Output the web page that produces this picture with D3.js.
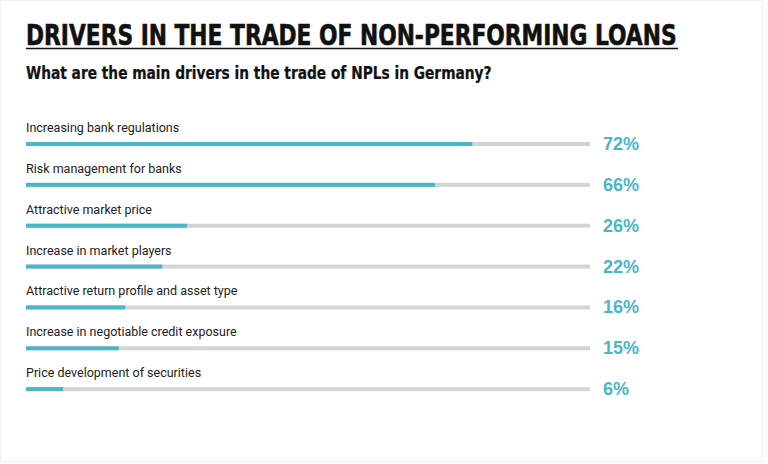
<!DOCTYPE html>
<html>
<head>
<meta charset="utf-8">
<script src="https://cdn.jsdelivr.net/npm/d3@7"></script>
<style>
  body { margin: 0; background: #fff; }
  svg { display: block; }
</style>
</head>
<body>
<svg width="768" height="464"></svg>
<script>
const drivers = [
    "Increasing bank regulations",
    "Risk management for banks",
    "Attractive market price",
    "Increase in market players",
    "Attractive return profile and asset type",
    "Increase in negotiable credit exposure",
    "Price development of securities"
];
const shares = [72, 66, 26, 22, 16, 15, 6];

const svg = d3.select("svg");
const teal = "#4ab6c7";

// faint frame like the source image
svg.append("rect")
    .attr("x", 0.5).attr("y", 0.5)
    .attr("width", 762).attr("height", 461)
    .attr("fill", "none")
    .attr("stroke", "#f0f0f0");

// fit a heading to a width by font size, then stretch it back up vertically
function heading(txt, x0, base, size, width, weight) {
    const t = svg.append("text")
        .attr("font-family", "DejaVu Sans Condensed")
        .attr("font-weight", "bold")
        .attr("font-size", size)
        .attr("fill", "#111")
        .attr("stroke", "#111")
        .attr("stroke-width", weight)
        .text(txt);
    const len = t.node().getComputedTextLength();
    const fs = size * width / len;
    t.attr("font-size", fs)
        .attr("transform", `translate(${x0}, ${base}) scale(1, ${size / fs})`);
    return t;
}

heading("DRIVERS IN THE TRADE OF NON-PERFORMING LOANS", 26, 45, 28, 651, 0.5);
svg.append("line")
    .attr("x1", 26).attr("x2", 678)
    .attr("y1", 48.5).attr("y2", 48.5)
    .attr("stroke", "#111")
    .attr("stroke-width", 1.5);

heading("What are the main drivers in the trade of NPLs in Germany?", 26, 79, 18, 466, 0.2);

// scales
const x = d3.scaleLinear().domain([0, 91]).range([26, 590]).clamp(true);
const y = d3.scaleBand().domain(drivers).range([122, 408]);

const rows = svg.append("g")
    .selectAll("g")
    .data(drivers)
    .enter()
    .append("g")
    .attr("transform", d => `translate(0, ${y(d)})`);

rows.append("text")
    .attr("x", 26).attr("y", 10)
    .attr("font-family", "Roboto")
    .attr("font-size", 12.5)
    .attr("fill", "#222")
    .text(d => d);

// grey track
rows.append("rect")
    .attr("x", x(0)).attr("y", 20)
    .attr("width", x.range()[1] - x(0))
    .attr("height", 4)
    .attr("fill", "#d2d4d5");

// value bar
rows.append("rect")
    .attr("x", x(0)).attr("y", 20)
    .attr("width", (d, i) => x(shares[i]) - x(0))
    .attr("height", 4)
    .attr("fill", teal);

rows.append("text")
    .attr("x", 603).attr("y", 28)
    .attr("font-family", "Liberation Sans")
    .attr("font-weight", "bold")
    .attr("font-size", 18)
    .attr("fill", teal)
    .text((d, i) => shares[i] + "%");
</script>
</body>
</html>
